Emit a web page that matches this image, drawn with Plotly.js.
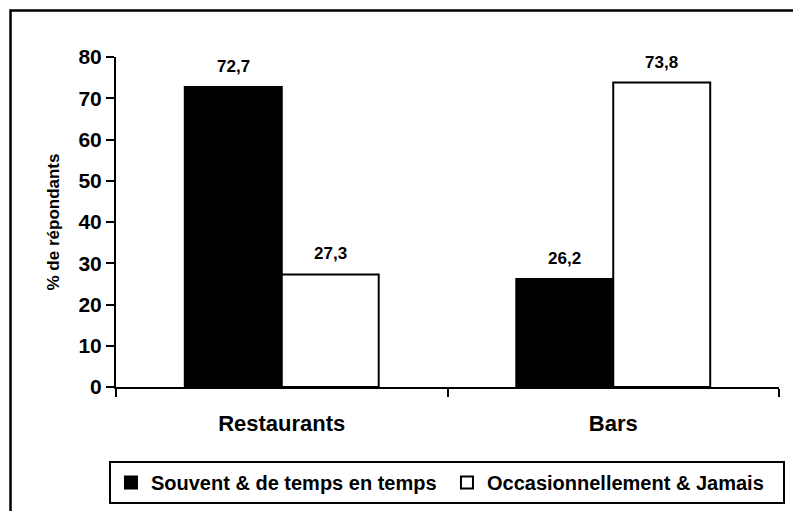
<!DOCTYPE html>
<html>
<head>
<meta charset="utf-8">
<script src="https://cdn.plot.ly/plotly-3.0.1.min.js"></script>
<style>
html, body { margin: 0; padding: 0; background: #ffffff; }
#chart { width: 793px; height: 511px; }
</style>
</head>
<body>
<div id="chart"></div>
<script>
const categories = ['Restaurants', 'Bars'];
const seriesNames = ['Souvent & de temps en temps', 'Occasionnellement & Jamais'];
const souvent = [72.7, 26.2];
const occasionnel = [27.3, 73.8];
const yTickValues = [0, 10, 20, 30, 40, 50, 60, 70, 80];
const yTitle = '% de répondants';

const FONT = 'Liberation Sans, Arial, Helvetica, sans-serif';
const BARGAP = 0.415;

const seriesValues = [souvent, occasionnel];
const fills = ['#000000', '#ffffff'];

const traces = seriesValues.map((vals, k) => ({
  type: 'bar',
  name: seriesNames[k],
  x: categories,
  y: vals,
  marker: { color: fills[k], line: { color: '#000000', width: 2 } },
  hoverinfo: 'skip'
}));

// value labels above each bar, placed through the category axis
const barW = (1 - BARGAP) / seriesValues.length;
const annotations = [];
seriesValues.forEach((vals, k) => {
  vals.forEach((v, i) => {
    annotations.push({
      xref: 'x', yref: 'y',
      x: i + (k - (seriesValues.length - 1) / 2) * barW,
      y: v,
      text: v.toFixed(1).replace('.', ','),
      showarrow: false,
      xanchor: 'center', yanchor: 'bottom',
      yshift: 9,
      font: { family: FONT, size: 17, color: '#000000', weight: 'bold' }
    });
  });
});

const layout = {
  width: 793, height: 511,
  margin: { l: 116, r: 14, t: 57, b: 124, pad: 0, autoexpand: false },
  paper_bgcolor: '#ffffff',
  plot_bgcolor: '#ffffff',
  font: { family: FONT, color: '#000000', weight: 'bold' },
  barmode: 'group',
  bargap: BARGAP,
  bargroupgap: 0,
  showlegend: true,
  legend: {
    orientation: 'h',
    x: -0.0106, xanchor: 'left',
    y: -0.2242, yanchor: 'top',
    bordercolor: '#000000', borderwidth: 2,
    bgcolor: '#ffffff',
    font: { family: FONT, size: 20, color: '#000000', weight: 'bold' },
    entrywidth: 291,
    traceorder: 'normal'
  },
  xaxis: {
    type: 'category',
    showline: true, linecolor: '#000000', linewidth: 2,
    ticks: 'outside', tickson: 'boundaries', ticklen: 8, tickwidth: 2, tickcolor: '#000000',
    showgrid: false, zeroline: false,
    tickfont: { family: FONT, size: 22, color: '#000000', weight: 'bold' },
    ticklabelstandoff: 16,
    automargin: false,
    fixedrange: true
  },
  yaxis: {
    range: [0, 80],
    tickvals: yTickValues,
    ticktext: yTickValues.map(String),
    showline: true, linecolor: '#000000', linewidth: 2,
    ticks: 'outside', ticklen: 8, tickwidth: 2, tickcolor: '#000000',
    showgrid: false, zeroline: false,
    tickfont: { family: FONT, size: 21, color: '#000000', weight: 'bold' },
    title: { text: yTitle, font: { family: FONT, size: 17, color: '#000000', weight: 'bold' }, standoff: 14 },
    automargin: false,
    fixedrange: true
  },
  shapes: [{
    type: 'rect', xref: 'paper', yref: 'paper',
    x0: -0.1591, x1: 1.2, y0: -0.7, y1: 1.1409,
    line: { color: '#000000', width: 2.5 },
    fillcolor: 'rgba(0,0,0,0)',
    layer: 'above'
  }],
  annotations: annotations
};

Plotly.newPlot('chart', traces, layout, { displayModeBar: false, staticPlot: true });
</script>
</body>
</html>
